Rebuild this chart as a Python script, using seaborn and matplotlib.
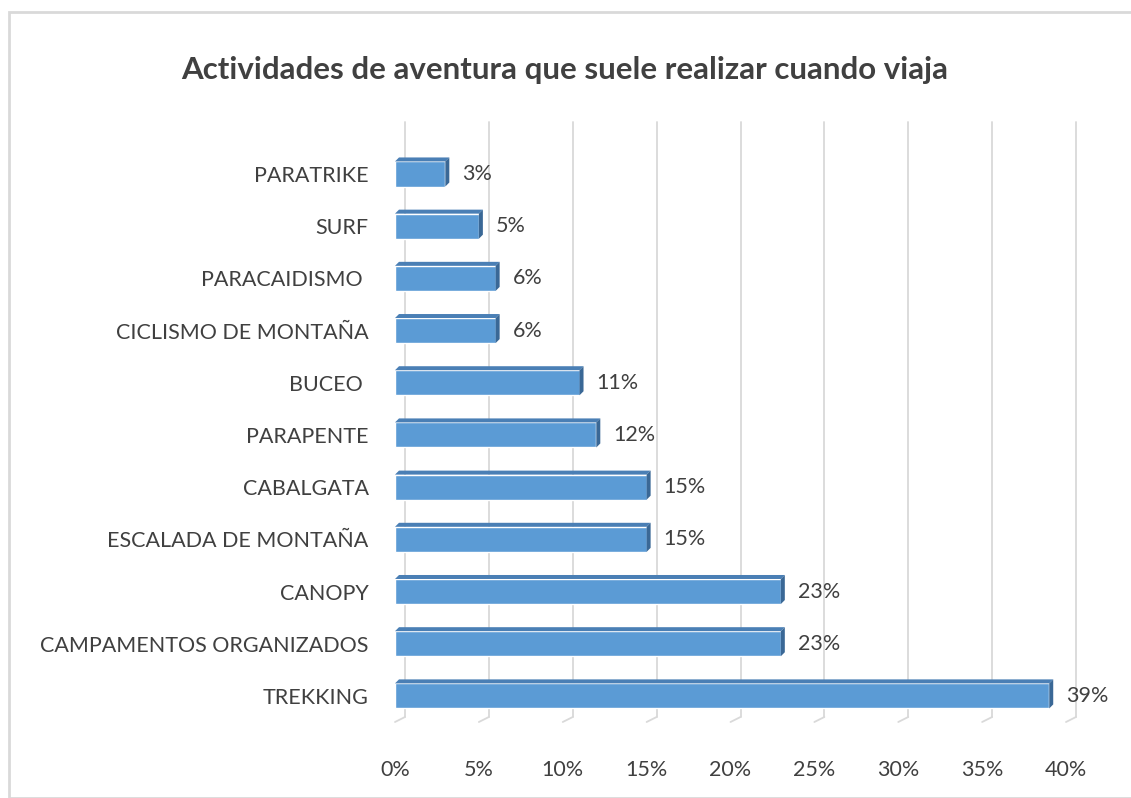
import matplotlib
matplotlib.use('Agg')
import matplotlib.pyplot as plt
import matplotlib.transforms as mtransforms
from matplotlib.patches import Rectangle, Polygon
import seaborn as sns
import pandas as pd

# Datos del gráfico
actividades = ['PARATRIKE', 'SURF', 'PARACAIDISMO ', 'CICLISMO DE MONTAÑA', 'BUCEO ',
               'PARAPENTE', 'CABALGATA', 'ESCALADA DE MONTAÑA', 'CANOPY',
               'CAMPAMENTOS ORGANIZADOS', 'TREKKING']
porcentajes = [3, 5, 6, 6, 11, 12, 15, 15, 23, 23, 39]
ticks_x = [0, 5, 10, 15, 20, 25, 30, 35, 40]

df = pd.DataFrame({'Actividad': actividades, 'Porcentaje': porcentajes})

sns.set_style('white')
plt.rcParams['font.family'] = ['Lato', 'DejaVu Sans']

W, H = 1131, 798
fig = plt.figure(figsize=(W / 100, H / 100), dpi=100)

# marco del gráfico (solo bordes superior e izquierdo visibles)
fig.patches.append(Rectangle((9 / W, 0), 1.2, 1 - 12 / H, transform=fig.transFigure,
                             fill=False, edgecolor='#d9d9d9', linewidth=2, zorder=0))

ax = fig.add_axes([395 / W, 1 - 722 / H, (1066 - 395) / W, 595 / H])

azul = '#5b9bd5'
sns.barplot(x='Porcentaje', y='Actividad', data=df, orient='h', color=azul,
            width=0.48, saturation=1, ax=ax, zorder=3)

ax.set_xlim(0, 40)
ax.set_ylim(10.5, -0.9)

# efecto 3D: profundidad en píxeles
dx, dy = 10 / 100, 5 / 100  # pulgadas
off = mtransforms.ScaledTranslation(dx, dy, fig.dpi_scale_trans)

# líneas de cuadrícula desplazadas (pared del fondo) y diagonales del piso
for t in ticks_x:
    ax.plot([t, t], [10.5, -0.9], transform=ax.transData + off, color='#d9d9d9',
            linewidth=1.3, zorder=1, clip_on=False)
    ax.annotate('', xy=(t, 10.5), xycoords='data', xytext=(dx * 100, dy * 100),
                textcoords='offset pixels',
                arrowprops=dict(arrowstyle='-', color='#d9d9d9', lw=1.3,
                                shrinkA=0, shrinkB=0), zorder=1)

# caras superior y lateral de cada barra
for bar in ax.patches:
    x0 = bar.get_x()
    w = bar.get_width()
    y_top = bar.get_y()
    h = bar.get_height()
    pts = ax.transData.transform([[x0, y_top], [x0 + w, y_top], [x0 + w, y_top + h]])
    d = [4, 4]
    (ax0, ay0), (ax1, ay1), (ax2, ay2) = pts
    top = Polygon([[ax0, ay0], [ax1, ay1], [ax1 + d[0], ay1 + d[1]], [ax0 + d[0], ay0 + d[1]]],
                  closed=True, transform=None, facecolor='#4a7fb5', edgecolor='none', zorder=4)
    side = Polygon([[ax1, ay1], [ax1 + d[0], ay1 + d[1]], [ax2 + d[0], ay2 + d[1]], [ax2, ay2]],
                   closed=True, transform=None, facecolor='#3a6896', edgecolor='none', zorder=4)
    fig.patches.append(top)
    fig.patches.append(side)

# etiquetas de datos
for i, v in enumerate(porcentajes):
    ax.annotate(f'{v}%', xy=(v, i), xytext=(17, 0), textcoords='offset pixels',
                ha='left', va='center', fontsize=15.5, color='#404040')

ax.set_xticks(ticks_x)
ax.set_xticklabels([f'{t}%' for t in ticks_x], fontsize=15.5, color='#404040')
ax.set_yticks(range(len(actividades)))
ax.set_yticklabels(actividades, fontsize=15.5, color='#404040')
ax.tick_params(axis='x', length=0, pad=27)
ax.tick_params(axis='y', length=0, pad=19)
ax.set_xlabel('')
ax.set_ylabel('')
for s in ax.spines.values():
    s.set_visible(False)
ax.patch.set_alpha(0)

fig.text(565 / W, 1 - 70 / H, 'Actividades de aventura que suele realizar cuando viaja',
         ha='center', va='center', fontsize=22.5, fontweight='bold', color='#404040',
         family=['Lato', 'DejaVu Sans'])

fig.savefig('out.png', dpi=100)
